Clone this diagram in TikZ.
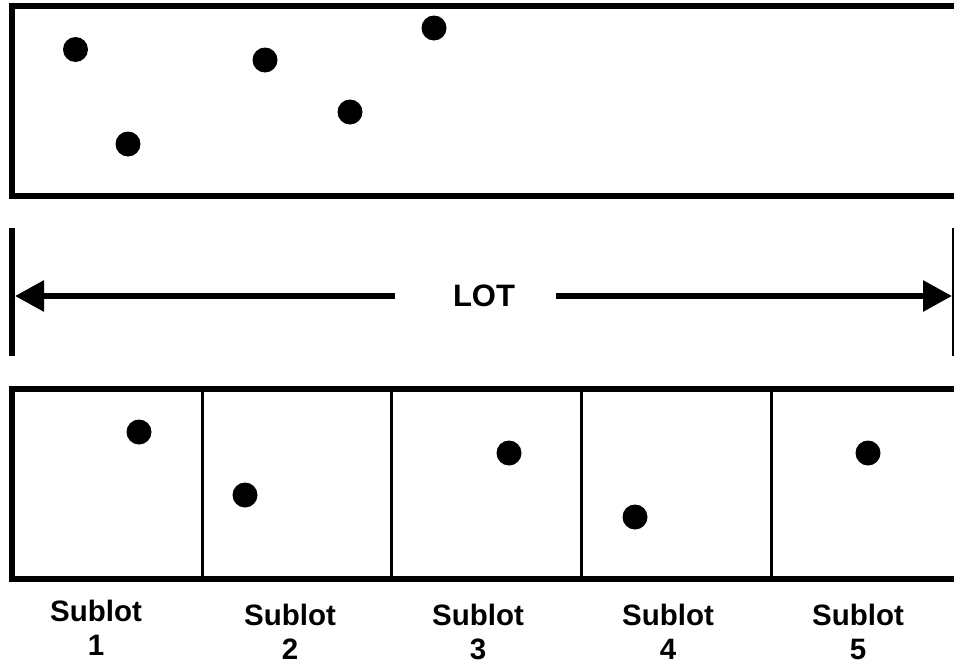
\documentclass[tikz,border=0pt]{standalone}
\usepackage{fontspec}
\setmainfont{Liberation Sans}
\usetikzlibrary{arrows.meta}
\tikzset{
  frame/.style={line width=6pt},
  divider/.style={line width=3pt},
  dot/.style={circle,fill=black,inner sep=0pt,minimum size=25pt},
  lbl/.style={font=\fontsize{29.5}{34}\selectfont\bfseries,align=center,inner sep=0pt},
  lotlbl/.style={font=\fontsize{31}{36}\selectfont\bfseries,inner sep=0pt},
  dimline/.style={line width=6pt,-{Triangle[length=29pt,width=30pt]}}
}
\begin{document}
\begin{tikzpicture}[x=1pt,y=-1pt]
\useasboundingbox (0,0) rectangle (954,664);
% top lot (open on the right)
\draw[frame] (1000,6) -- (12,6) -- (12,196) -- (1000,196);
\node[dot] (t1) at (75.5,49.5) {};
\node[dot] (t2) at (128,144) {};
\node[dot] (t3) at (265,60) {};
\node[dot] (t4) at (350,112) {};
\node[dot] (t5) at (434,28) {};
% LOT dimension
\draw[line width=6pt] (12,228) -- (12,356);
\draw[line width=4pt] (954,228) -- (954,356);
\coordinate (lend) at (15,296);
\coordinate (rend) at (952,296);
\coordinate (la) at (395,296);
\coordinate (ra) at (556,296);
\node[lotlbl] (lot) at (484,296) {LOT};
\draw[dimline] (la) -- (lend);
\draw[dimline] (ra) -- (rend);
% bottom lot with sublots
\draw[frame] (1000,389) -- (12,389) -- (12,579) -- (1000,579);
\draw[divider] (202,389) -- (202,579);
\draw[divider] (391,389) -- (391,579);
\draw[divider] (581,389) -- (581,579);
\draw[divider] (771,389) -- (771,579);
\node[dot] (s1) at (139,432) {};
\node[dot] (s2) at (245,495) {};
\node[dot] (s3) at (509,453) {};
\node[dot] (s4) at (635,517) {};
\node[dot] (s5) at (868,453) {};
% labels
\node[lbl] (l1) at (96,628) {Sublot\\1};
\node[lbl] (l2) at (290,632) {Sublot\\2};
\node[lbl] (l3) at (478,632) {Sublot\\3};
\node[lbl] (l4) at (668,632) {Sublot\\4};
\node[lbl] (l5) at (858,632) {Sublot\\5};
\end{tikzpicture}
\end{document}
